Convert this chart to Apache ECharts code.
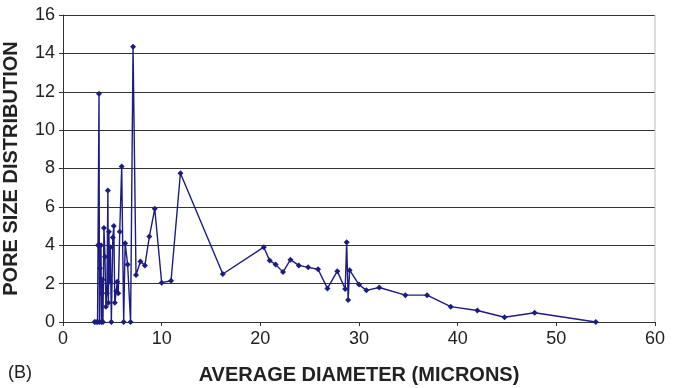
<!DOCTYPE html>
<html>
<head>
<meta charset="utf-8">
<script src="https://cdn.jsdelivr.net/npm/echarts@6/dist/echarts.min.js"></script>
<style>
  html, body { margin: 0; padding: 0; background: #fff; }
  #chart { width: 683px; height: 388px; }
</style>
</head>
<body>
<div id="chart"></div>
<script>
// 平均孔径 (microns) 与孔径分布
const diameters = [
  3.2, 3.35, 3.5, 3.55, 3.65, 3.7, 3.75, 3.85, 3.9, 3.95, 4.0, 4.05,
  4.15, 4.25, 4.35, 4.45, 4.55, 4.6, 4.65, 4.75, 4.8, 4.9, 5.05, 5.15,
  5.25, 5.4, 5.5, 5.6, 5.75, 5.95, 6.15, 6.3, 6.55, 6.85, 7.1, 7.4,
  7.85, 8.3, 8.75, 9.3, 10.0, 10.95, 11.9, 16.2, 20.35, 20.95, 21.55,
  22.3, 23.05, 23.9, 24.85, 25.85, 26.8, 27.8, 28.6, 28.75, 28.9, 29.05,
  30.0, 30.75, 32.05, 34.7, 36.9, 39.3, 42.0, 44.75, 47.8, 54.0
];
const distribution = [
  0, 0, 0, 4.0, 11.9, 0, 2.8, 4.0, 0, 1.5, 2.2, 0,
  4.9, 3.4, 0.8, 1.5, 6.85, 1.0, 4.7, 2.1, 3.9, 0, 4.4, 5.0,
  1.0, 1.6, 2.1, 1.5, 4.7, 8.1, 0, 4.1, 3.0, 0, 14.35, 2.45,
  3.15, 2.95, 4.45, 5.9, 2.05, 2.15, 7.75, 2.5, 3.9, 3.2, 3.0,
  2.6, 3.25, 2.95, 2.85, 2.75, 1.75, 2.65, 1.72, 4.15, 1.15, 2.7,
  1.95, 1.65, 1.8, 1.4, 1.4, 0.8, 0.6, 0.25, 0.48, 0
];
const xTicks = [0, 10, 20, 30, 40, 50, 60];
const yTicks = [0, 2, 4, 6, 8, 10, 12, 14, 16];

const chart = echarts.init(document.getElementById('chart'));
const txt = '#222';

chart.setOption({
  backgroundColor: '#fff',
  textStyle: { fontFamily: 'Liberation Sans, Arial, sans-serif' },
  grid: { left: 63, right: 28, top: 15, bottom: 66, containLabel: false, outerBoundsMode: 'none' },
  graphic: [{
    type: 'text', left: 8, top: 364,
    style: { text: '(B)', fontSize: 18, fill: txt, fontFamily: 'Liberation Sans' }
  }],
  xAxis: {
    type: 'value', min: xTicks[0], max: xTicks[xTicks.length - 1], interval: 10,
    name: 'AVERAGE DIAMETER (MICRONS)', nameLocation: 'middle', nameGap: 43,
    nameTextStyle: { fontSize: 20, fontWeight: 'bold', color: txt },
    axisLine: { show: true, lineStyle: { color: '#333', width: 1 } },
    axisTick: { show: true, length: 4, lineStyle: { color: '#333' } },
    axisLabel: { fontSize: 18, color: txt, margin: 8 },
    splitLine: { show: false }
  },
  yAxis: {
    type: 'value', min: yTicks[0], max: yTicks[yTicks.length - 1], interval: 2,
    name: 'PORE SIZE DISTRIBUTION', nameLocation: 'middle', nameGap: 42,
    nameTextStyle: { fontSize: 20, fontWeight: 'bold', color: txt },
    axisLine: { show: true, lineStyle: { color: '#333', width: 1 } },
    axisTick: { show: true, length: 4, lineStyle: { color: '#333' } },
    axisLabel: { fontSize: 18, color: txt, margin: 8 },
    splitLine: { show: true, lineStyle: { color: '#333', width: 1 } }
  },
  series: [{
    type: 'line',
    data: diameters.map((d, i) => [d, distribution[i]]),
    symbol: 'diamond', symbolSize: 6, showAllSymbol: true,
    lineStyle: { color: '#1c1c82', width: 1.4 },
    itemStyle: { color: '#1c1c82' },
    animation: false
  }, {
    // 右边框
    type: 'line', data: [[60, 0], [60, 16]], symbol: 'none', silent: true,
    lineStyle: { color: '#bbb', width: 1 }, animation: false
  }]
});
</script>
</body>
</html>
